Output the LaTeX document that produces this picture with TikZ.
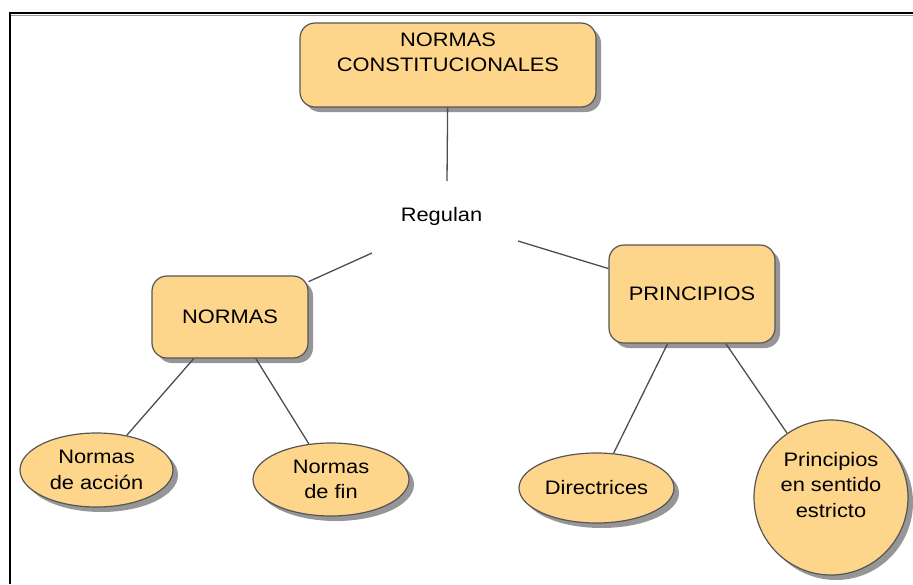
\documentclass[tikz,border=0pt]{standalone}
\usepackage{fontspec}
\setmainfont{Liberation Sans}[FakeStretch=1.12]
\usetikzlibrary{shadows,shapes.geometric}
\definecolor{boxfill}{HTML}{FDD68C}
\definecolor{edgegray}{HTML}{555555}
\definecolor{linkgray}{HTML}{4D4D4D}

\begin{document}
\begin{tikzpicture}[x=1pt,y=-1pt,
  base/.style={draw=edgegray, line width=1.2pt, fill=boxfill, inner sep=0pt,
    align=center, font=\fontsize{19.5}{25.4}\selectfont,
    drop shadow={shadow xshift=5pt, shadow yshift=-5pt, fill=black!55, opacity=0.75}},
  box/.style={base, rectangle, rounded corners=15pt},
  oval/.style={base, ellipse},
  link/.style={draw=linkgray, line width=1.3pt},
  plain/.style={font=\fontsize{19.5}{25.4}\selectfont},
]
\useasboundingbox (0,0) rectangle (913,584);

% frame
\draw[black!40, line width=1pt] (11,15.5) -- (913,15.5);
\draw[line width=2pt] (10,584) -- (10,13) -- (913,13);

% concept boxes
\node[box, minimum width=296pt, minimum height=84pt] (nc) at (448,65)
  {NORMAS\\CONSTITUCIONALES\\\mbox{}};
\node[box, minimum width=156pt, minimum height=82pt] (normas) at (230,317) {NORMAS};
\node[box, minimum width=166pt, minimum height=98pt] (princ) at (692,294) {PRINCIPIOS};

% leaves
\node[oval, minimum width=153pt, minimum height=74pt] (accion) at (96.5,470) {Normas\\de acción};
\node[oval, minimum width=156pt, minimum height=73pt] (fin) at (331,479.5) {Normas\\de fin};
\node[oval, minimum width=155pt, minimum height=70pt] (direc) at (596.5,488) {Directrices};
\node[oval, minimum width=154pt, minimum height=155pt] (estricto) at (831,497.5)
  {Principios\\en sentido\\estricto\\\mbox{}};

% linking phrase
\node[plain, anchor=base] (regulan) at (441.5,221.7) {Regulan};
\coordinate (regT) at (447,181);
\coordinate (regL) at (372,253);
\coordinate (regR) at (518,241);

% connectors
\draw[link] (nc) -- (regT);
\draw[link] (regL) -- (normas);
\draw[link] (regR) -- (princ);
\draw[link] (normas) -- (accion);
\draw[link] (normas) -- (fin);
\draw[link] (princ) -- (direc);
\draw[link] (princ) -- (estricto);
\end{tikzpicture}
\end{document}
